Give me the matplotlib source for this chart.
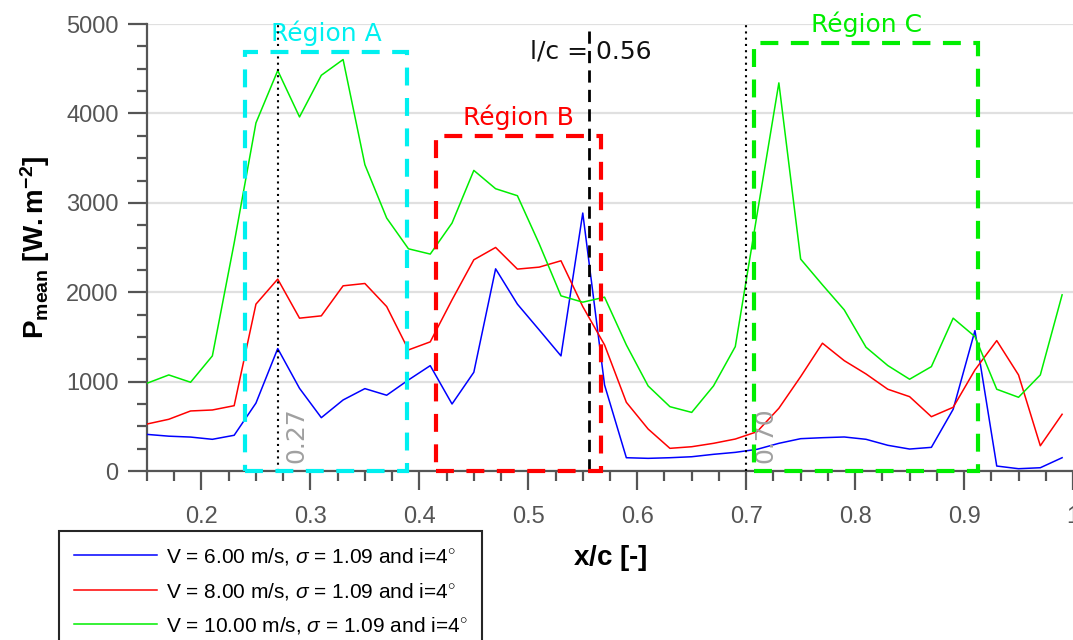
import matplotlib
matplotlib.use("Agg")
import matplotlib.pyplot as plt
from matplotlib.patches import Rectangle
from matplotlib.ticker import MultipleLocator, FixedLocator, FixedFormatter

plt.rcParams['font.family'] = ['Liberation Sans', 'DejaVu Sans']
plt.rcParams['mathtext.fontset'] = 'custom'
plt.rcParams['mathtext.rm'] = 'Liberation Sans'
plt.rcParams['mathtext.it'] = 'Liberation Sans:italic'
plt.rcParams['mathtext.bf'] = 'Liberation Sans:bold'

# %% data
x_c = [0.15, 0.17, 0.19, 0.21, 0.23, 0.25, 0.27, 0.29, 0.31, 0.33, 0.35,
       0.37, 0.39, 0.41, 0.43, 0.45, 0.47, 0.49, 0.51, 0.53, 0.55, 0.57,
       0.59, 0.61, 0.63, 0.65, 0.67, 0.69, 0.71, 0.73, 0.75, 0.77, 0.79,
       0.81, 0.83, 0.85, 0.87, 0.89, 0.91, 0.93, 0.95, 0.97, 0.99]

p_v6 = [410, 390, 380, 355, 400, 760, 1370, 925, 597, 795, 922,
        848, 1019, 1179, 750, 1105, 2262, 1867, 1579, 1288, 2886, 963,
        149, 142, 149, 160, 187, 209, 243, 310, 362, 373, 381,
        355, 288, 246, 265, 691, 1571, 56, 26, 37, 149]

p_v8 = [526, 579, 672, 683, 731, 1867, 2147, 1710, 1736, 2072, 2098,
        1840, 1355, 1445, 1915, 2363, 2501, 2259, 2281, 2352, 1840, 1411,
        769, 470, 254, 272, 310, 358, 440, 702, 1056, 1430, 1235,
        1086, 915, 832, 608, 713, 1131, 1459, 1075, 283, 635]

p_v10 = [982, 1075, 993, 1288, 2550, 3894, 4480, 3961, 4427, 4603, 3427,
         2830, 2486, 2427, 2774, 3363, 3158, 3080, 2542, 1960, 1889, 1945,
         1411, 952, 720, 656, 952, 1392, 2870, 4342, 2371, 2083, 1803,
         1385, 1180, 1027, 1168, 1710, 1504, 915, 825, 1075, 1971]

series_labels = [r"V = 6.00 m/s, $\sigma$ = 1.09 and i=4$^{\circ}$",
                 r"V = 8.00 m/s, $\sigma$ = 1.09 and i=4$^{\circ}$",
                 r"V = 10.00 m/s, $\sigma$ = 1.09 and i=4$^{\circ}$"]

region_names = ["Région A", "Région B", "Région C"]
region_x0 = [0.240, 0.415, 0.707]
region_x1 = [0.389, 0.567, 0.913]
region_top = [4690, 3745, 4790]

marker_x = [0.27, 0.70]
marker_text = ["0.27", "0.70"]
lc_x = 0.556
lc_text = "l/c = 0.56"

xtick_vals = [0.2, 0.3, 0.4, 0.5, 0.6, 0.7, 0.8, 0.9, 1.0]
xtick_labels = ["0.2", "0.3", "0.4", "0.5", "0.6", "0.7", "0.8", "0.9", "1"]

# %% plot
fig = plt.figure(figsize=(10.73, 6.40), dpi=100)
ax = fig.add_axes([0.137, 0.264, 0.863, 0.6984])

line_colors = ["#0000ff", "#ff0000", "#00ee00"]
for y, c, lab in zip([p_v6, p_v8, p_v10], line_colors, series_labels):
    ax.plot(x_c, y, color=c, lw=1.1, label=lab, zorder=3)

region_colors = ["#00f0f0", "#ff0000", "#00ee00"]
for name, x0, x1, top, c in zip(region_names, region_x0, region_x1,
                                region_top, region_colors):
    ax.add_patch(Rectangle((x0, 0), x1 - x0, top, fill=False, edgecolor=c,
                           lw=3, linestyle=(0, (4.3, 3.0)), clip_on=False,
                           zorder=5))
    ax.annotate(name, ((x0 + x1) / 2, top), xytext=(0, 8),
                textcoords="offset points", ha="center", va="baseline",
                color=c, fontsize=18, family="DejaVu Sans")

for xm, t in zip(marker_x, marker_text):
    ax.axvline(xm, color="black", lw=1.5, linestyle=(0, (1, 2)), zorder=4)
    ax.annotate(t, (xm, 0), xytext=(5, 6), textcoords="offset points",
                rotation=90, ha="left", va="bottom", color="#a0a0a0",
                fontsize=18, family="DejaVu Sans")

ax.axvline(lc_x, color="black", lw=2, linestyle=(0, (4.4, 2.6)), zorder=4)
ax.annotate(lc_text, (lc_x, 5000), xytext=(-43, -25), textcoords="offset points",
            ha="left", va="baseline", color="#111111", fontsize=18,
            family="DejaVu Sans")

ax.set_xlim(0.15, 1.0)
ax.set_ylim(0, 5000)
ax.xaxis.set_major_locator(FixedLocator(xtick_vals))
ax.xaxis.set_major_formatter(FixedFormatter(xtick_labels))
ax.xaxis.set_minor_locator(MultipleLocator(0.025))
ax.yaxis.set_major_locator(MultipleLocator(1000))
ax.yaxis.set_minor_locator(MultipleLocator(250))

for s in ["top", "right"]:
    ax.spines[s].set_visible(False)
for s in ["left", "bottom"]:
    ax.spines[s].set_color("#555555")
    ax.spines[s].set_linewidth(1.6)

ax.tick_params(which="major", length=13.5, width=1.6, color="#555555",
               labelsize=17, labelcolor="#555555")
ax.tick_params(which="minor", length=7, width=1.6, color="#555555")
ax.tick_params(axis="x", which="major", pad=12)
ax.tick_params(axis="y", which="major", pad=7)

ax.yaxis.grid(True, color="#e0e0e0", lw=1.6)
ax.set_axisbelow(True)

ax.set_xlabel(r"$\mathbf{x/c}$ $\mathbf{[}$-$\mathbf{]}$", fontsize=20, fontweight="bold")
ax.xaxis.set_label_coords(0.5, -0.16)
ax.set_ylabel(r"$\mathbf{P_{mean}}$ $\mathbf{[W.m^{-2}]}$", fontsize=20)
ax.yaxis.set_label_coords(-0.103, 0.5)

leg = ax.legend(loc="upper left", bbox_to_anchor=(59 / 1073, 1 - 531 / 640),
                bbox_transform=fig.transFigure, borderaxespad=0, fontsize=15,
                handlelength=4.0, handletextpad=0.4, labelspacing=0.65,
                borderpad=0.72, fancybox=False, framealpha=1)
leg.get_frame().set_edgecolor("#262626")
leg.get_frame().set_linewidth(1.5)

fig.savefig("out.png", dpi=100)
